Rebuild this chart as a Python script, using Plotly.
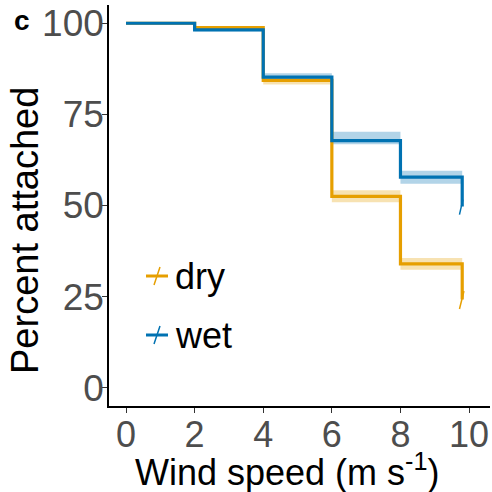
import plotly.graph_objects as go

# Data
x_steps = [0, 2, 4, 6, 8, 9.8]
dry = [100, 98.8, 84.3, 52.5, 34.0, 24.2]
dry_lo = [100, 98.4, 83.2, 50.9, 32.4, 32.4]
dry_hi = [100, 99.2, 85.0, 54.2, 35.6, 35.6]
wet = [100, 98.2, 85.2, 67.8, 57.8, 49.7]
wet_lo = [100, 97.8, 84.0, 66.8, 56.0, 56.0]
wet_hi = [100, 98.6, 86.3, 70.2, 59.5, 59.5]
dry_censor_x = [9.85, 9.72]
dry_censor_y = [26.5, 21.6]
wet_censor_x = [9.82, 9.72]
wet_censor_y = [51.6, 47.5]
groups = ["dry", "wet"]

DRY = "#E69F00"
WET = "#0072B2"
FONT = "Liberation Sans, Arial"

L, R, T, B = 109, 2, 5, 86
PW, PH = 492 - L - R, 492 - T - B


def px(xp):
    return (xp - L) / PW


def py(yp):
    return 1 - (yp - T) / PH


fig = go.Figure()
for lo, hi, col in [(dry_lo, dry_hi, "rgba(230,159,0,0.3)"), (wet_lo, wet_hi, "rgba(0,114,178,0.3)")]:
    fig.add_trace(go.Scatter(x=x_steps, y=lo, mode="lines", line=dict(width=0, shape="hv"),
                             hoverinfo="skip", showlegend=False))
    fig.add_trace(go.Scatter(x=x_steps, y=hi, mode="lines", line=dict(width=0, shape="hv"),
                             fill="tonexty", fillcolor=col, hoverinfo="skip", showlegend=False))

for y, col, cx, cy in [(dry, DRY, dry_censor_x, dry_censor_y), (wet, WET, wet_censor_x, wet_censor_y)]:
    fig.add_trace(go.Scatter(x=x_steps, y=y, mode="lines", line=dict(color=col, width=3.2, shape="hv"),
                             showlegend=False))
    fig.add_trace(go.Scatter(x=cx, y=cy, mode="lines", line=dict(color=col, width=1.5),
                             showlegend=False))

# manual legend
leg_y = [276, 335]
for name, col, ly in zip(groups, [DRY, WET], leg_y):
    fig.add_shape(type="line", xref="paper", yref="paper",
                  x0=px(146), x1=px(168), y0=py(ly), y1=py(ly),
                  line=dict(color=col, width=3))
    fig.add_shape(type="line", xref="paper", yref="paper",
                  x0=px(154), x1=px(160), y0=py(ly + 9), y1=py(ly - 9),
                  line=dict(color=col, width=1.5))
    fig.add_annotation(x=px(173), y=py(ly), xref="paper", yref="paper", text=name,
                       showarrow=False, xanchor="left", yanchor="middle",
                       font=dict(size=36, color="black", family=FONT))

fig.add_annotation(x=0, y=1, xref="paper", yref="paper", text="<b>c</b>", showarrow=False,
                   xanchor="left", yanchor="top", xshift=-97, yshift=2,
                   font=dict(size=28, color="black", family=FONT))

# axis titles
fig.add_annotation(x=px(25), y=py(231), xref="paper", yref="paper", text="Percent attached",
                   showarrow=False, textangle=-90, xanchor="center", yanchor="middle",
                   font=dict(size=38, color="black", family=FONT))
fig.add_annotation(x=px(287), y=py(470), xref="paper", yref="paper",
                   text="Wind speed (m s<sup>-1</sup>)",
                   showarrow=False, xanchor="center", yanchor="middle",
                   font=dict(size=36, color="black", family=FONT))

fig.update_layout(
    width=492, height=492,
    margin=dict(l=L, r=R, t=T, b=B),
    plot_bgcolor="white", paper_bgcolor="white",
    font=dict(family=FONT, color="black"),
    showlegend=False,
)
fig.update_xaxes(range=[-0.496, 10.61], tickvals=[0, 2, 4, 6, 8, 10], ticks="outside", ticklen=5,
                 tickcolor="#333333", showline=True, linecolor="black", linewidth=1.5,
                 showgrid=False, zeroline=False, tickfont=dict(size=36, color="#4D4D4D"),
                 ticklabelstandoff=-9)
fig.update_yaxes(range=[-5, 105], tickvals=[0, 25, 50, 75, 100], ticks="outside", ticklen=5,
                 tickcolor="#333333", showline=True, linecolor="black", linewidth=1.5,
                 showgrid=False, zeroline=False, tickfont=dict(size=37, color="#4D4D4D"),
                 ticklabelstandoff=-9)

fig.write_html("out.html")
